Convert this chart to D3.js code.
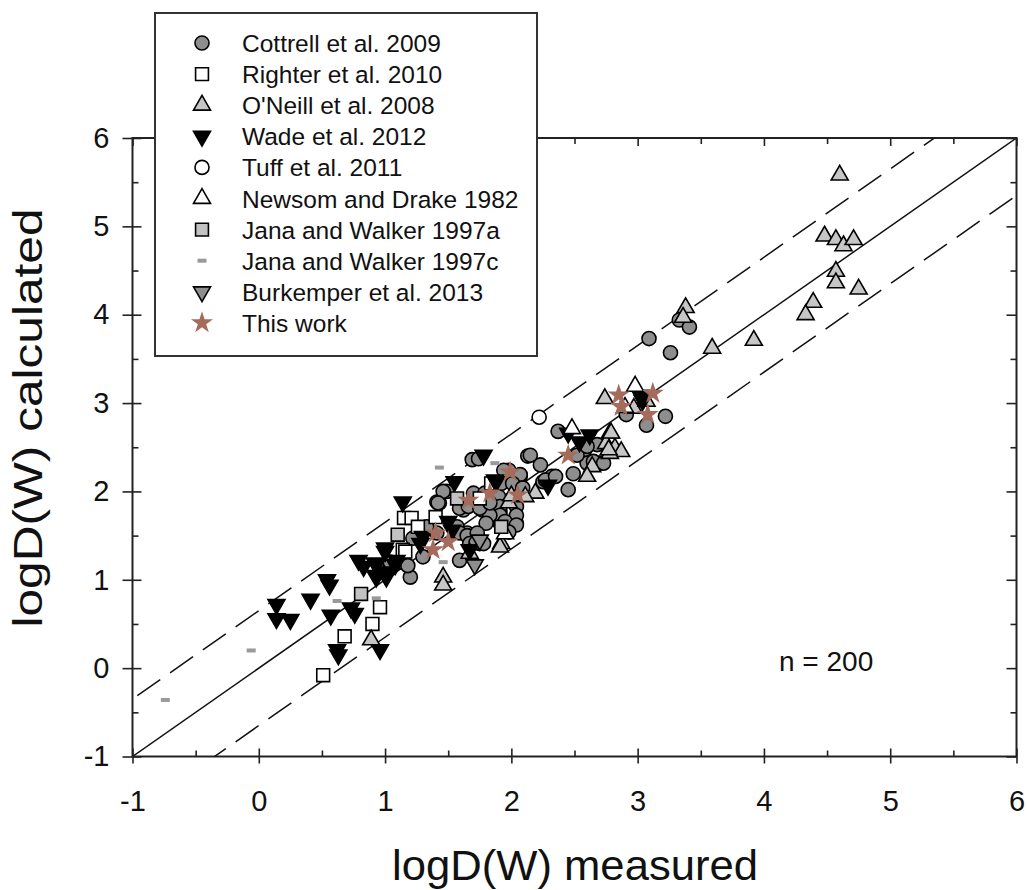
<!DOCTYPE html>
<html>
<head>
<meta charset="utf-8">
<script src="https://cdn.jsdelivr.net/npm/d3@7"></script>
<style>
  body { margin: 0; background: #fff; }
  text { font-family: "Liberation Sans", Arial, sans-serif; fill: #111; }
</style>
</head>
<body>
<svg id="chart"></svg>
<script>
const width = 1027;
const height = 890;

// values: [logD measured, logD calculated]
const cottrell = [
  [3.33,3.94],[3.41,3.86],[3.09,3.73],[3.26,3.57],[3.22,2.85],[3.07,2.75],[2.91,2.87],[2.68,2.53],[2.70,2.32],
  [2.37,2.68],[2.13,2.40],[2.23,2.30],[2.32,2.17],[2.25,2.11],[2.49,2.20],[2.45,2.02],[2.58,2.47],[2.60,2.32],
  [2.52,2.41],[2.60,2.51],[2.65,2.34],[2.73,2.32],[1.69,2.36],[1.74,2.37],[1.99,2.19],[2.07,2.17],[1.43,1.87],
  [1.62,1.79],[1.70,1.98],[1.77,1.79],[1.83,1.71],[1.91,1.77],[1.99,1.90],[2.04,1.83],[1.91,1.64],[1.99,1.60],
  [2.04,1.64],[1.57,1.60],[1.65,1.53],[1.73,1.49],[1.75,1.41],[1.59,1.22],[1.41,1.53],[1.20,1.03],[2.15,2.41],
  [2.27,2.13],[2.35,2.17],[1.98,2.24],[2.07,2.19],[1.92,2.09],[2.01,2.09],[2.09,2.04],[1.79,1.98],[1.90,1.94],
  [1.80,1.87],[1.91,1.83],[2.04,1.73],[1.91,1.73],[1.83,1.73],[1.80,1.64],[1.95,1.66],[2.04,1.62],[1.98,1.54],
  [1.49,2.00],[1.41,1.88],[1.59,1.81],[1.66,1.83],[1.75,1.81],[1.83,1.87],[1.33,1.60],[1.22,1.47],[1.59,1.53],
  [1.65,1.50],[1.73,1.53],[1.67,1.41],[1.72,1.42],[1.78,1.41],[1.04,1.15],[1.12,1.20],[1.18,1.16],[1.30,1.26],
  [1.04,1.20],[1.46,2.00],[1.42,1.87],[1.94,2.24]
];
const righter = [
  [0.51,-0.08],[0.68,0.36],[0.90,0.50],[0.96,0.69],[1.15,1.70],[1.14,1.34],[1.21,1.70],[1.26,1.60],
  [1.40,1.71],[1.16,1.32],[1.84,2.09],[1.75,1.92]
];
const oneill = [
  [4.60,5.58],[4.48,4.89],[4.57,4.85],[4.63,4.78],[4.71,4.85],[4.57,4.49],[4.57,4.36],[4.75,4.29],[4.39,4.14],
  [4.33,4.00],[3.92,3.71],[3.59,3.62],[3.38,4.08],[3.36,3.97],[2.74,3.05],[2.97,2.94],[3.07,3.02],[2.78,2.66],
  [2.75,2.54],[2.82,2.49],[2.87,2.45],[2.78,2.43],[2.64,2.28],[2.60,2.17],[2.19,1.98],[2.11,1.94],[1.98,1.87],
  [1.92,1.41],[1.67,1.30],[1.46,1.03],[1.46,0.94],[0.89,0.32],[2.79,2.66],[2.77,2.47],[1.91,1.37],[2.00,1.95]
];
const wade = [
  [0.14,0.72],[0.14,0.56],[0.25,0.55],[0.41,0.78],[0.54,1.00],[0.56,0.94],[0.57,0.60],[0.73,0.68],[0.76,0.62],
  [0.62,0.21],[0.63,0.15],[0.96,0.21],[0.79,1.22],[0.83,1.15],[0.93,1.17],[0.93,1.05],[1.01,1.03],[1.00,1.32],
  [1.14,1.88],[1.08,1.17],[1.55,2.11],[1.78,2.41],[1.00,1.36],[0.92,1.19],[1.01,1.09],[1.09,1.22],[0.93,1.03],
  [1.88,2.11],[1.50,1.66],[1.53,1.56],[1.30,1.49],[1.28,1.41],[1.67,1.34],[1.87,2.13],[2.29,2.07],[2.45,2.66],
  [2.62,2.64],[2.54,2.56],[3.02,3.09],[3.04,3.03]
];
const tuff = [[2.22,2.84]];
const newsom = [[2.98,3.19],[2.48,2.71],[1.95,1.52],[2.90,2.95]];
const janaA = [[0.81,0.84],[1.10,1.51],[1.57,1.92],[1.92,1.60]];
const janaC = [[-0.74,-0.36],[-0.06,0.20],[0.62,0.76],[0.93,0.79],[1.43,2.27],[1.46,1.20],[1.87,2.32]];
const burkemper = [[1.71,1.17],[1.75,1.45]];
const thisWork = [
  [2.85,3.09],[3.12,3.11],[2.87,2.96],[3.08,2.87],[2.45,2.41],[1.99,2.22],[2.05,1.96],[1.83,1.98],
  [1.66,1.90],[1.40,1.53],[1.50,1.43],[1.38,1.34]
];

const legendLabels = [
  "Cottrell et al. 2009", "Righter et al. 2010", "O'Neill et al. 2008", "Wade et al. 2012",
  "Tuff et al. 2011", "Newsom and Drake 1982", "Jana and Walker 1997a", "Jana and Walker 1997c",
  "Burkemper et al. 2013", "This work"
];
const axisTicks = [-1, 0, 1, 2, 3, 4, 5, 6];
const minorTicks = [-0.5, 0.5, 1.5, 2.5, 3.5, 4.5, 5.5];
const lineOffsets = [-0.65, 0, 0.65];

// series styling, same order as the legend
const series = [
  { data: cottrell, shape: "circle", fill: "#8e8e8e" },
  { data: righter, shape: "square", fill: "#ffffff" },
  { data: oneill, shape: "up", fill: "#c6c6c6" },
  { data: wade, shape: "down", fill: "#000000" },
  { data: tuff, shape: "circle", fill: "#ffffff" },
  { data: newsom, shape: "up", fill: "#ffffff" },
  { data: janaA, shape: "square", fill: "#c2c2c2" },
  { data: janaC, shape: "dash", fill: "#9a9a9a" },
  { data: burkemper, shape: "down", fill: "#8e8e8e" },
  { data: thisWork, shape: "star", fill: "#a56b5b" }
];

const svg = d3.select("#chart")
  .attr("width", width)
  .attr("height", height);

const x = d3.scaleLinear().domain([-1, 6]).range([132.5, 1016.5]);
const y = d3.scaleLinear().domain([-1, 6]).range([756.5, 138]);

const symbolPath = {
  circle: d3.symbol(d3.symbolCircle, 155)(),
  square: d3.symbol(d3.symbolSquare, 165)(),
  up: d3.symbol(d3.symbolTriangle, 125)(),
  down: d3.symbol(d3.symbolTriangle, 125)(),
  star: d3.symbol(d3.symbolStar, 150)()
};

function drawMark(g, shape, fill) {
  if (shape === "dash") {
    g.append("rect").attr("x", -4.5).attr("y", -2).attr("width", 9).attr("height", 4)
      .attr("fill", fill);
  } else {
    g.append("path")
      .attr("d", symbolPath[shape])
      .attr("transform", shape === "down" ? "rotate(180)" : null)
      .attr("fill", fill)
      .attr("stroke", shape === "star" ? "none" : "#000")
      .attr("stroke-width", 1.6);
  }
}

// frame
svg.append("rect")
  .attr("x", x(-1)).attr("y", y(6))
  .attr("width", x(6) - x(-1)).attr("height", y(-1) - y(6))
  .attr("fill", "none").attr("stroke", "#222").attr("stroke-width", 2);

// 1:1 line and the two dashed bands
svg.append("clipPath").attr("id", "plotclip")
  .append("rect")
  .attr("x", x(-1)).attr("y", y(6))
  .attr("width", x(6) - x(-1)).attr("height", y(-1) - y(6));

const line = d3.line().x(d => x(d[0])).y(d => y(d[1]));
svg.append("g").attr("clip-path", "url(#plotclip)")
  .selectAll("path")
  .data(lineOffsets)
  .enter()
  .append("path")
  .attr("d", o => line([[-2, -2 + o], [7, 7 + o]]))
  .attr("fill", "none")
  .attr("stroke", "#111")
  .attr("stroke-width", 1.5)
  .attr("stroke-dasharray", o => o === 0 ? null : "28,12");

// axes: major ticks cross the frame, minor ticks point inward
const plainFormat = d => String(d); // hyphen minus like the original
function styleAxis(g) {
  g.select(".domain").remove();
  g.selectAll("line").attr("stroke", "#222").attr("stroke-width", 1.6);
  g.selectAll("text").attr("font-size", 29).attr("fill", "#111")
    .attr("font-family", "Liberation Sans, Arial, sans-serif");
}

svg.append("g").attr("transform", `translate(0,${y(-1)})`)
  .call(d3.axisBottom(x).tickValues(axisTicks).tickSize(7).tickPadding(27).tickFormat(plainFormat))
  .call(styleAxis);
svg.append("g").attr("transform", `translate(0,${y(-1)})`)
  .call(d3.axisBottom(x).tickValues(axisTicks).tickSize(-8).tickFormat(""))
  .call(styleAxis);
svg.append("g").attr("transform", `translate(0,${y(-1)})`)
  .call(d3.axisBottom(x).tickValues(minorTicks).tickSize(-6).tickFormat(""))
  .call(styleAxis);

svg.append("g").attr("transform", `translate(${x(-1)},0)`)
  .call(d3.axisLeft(y).tickValues(axisTicks).tickSize(10).tickPadding(13).tickFormat(plainFormat))
  .call(styleAxis);
svg.append("g").attr("transform", `translate(${x(-1)},0)`)
  .call(d3.axisLeft(y).tickValues(axisTicks).tickSize(-9).tickFormat(""))
  .call(styleAxis);
svg.append("g").attr("transform", `translate(${x(-1)},0)`)
  .call(d3.axisLeft(y).tickValues(minorTicks).tickSize(-6).tickFormat(""))
  .call(styleAxis);

svg.append("g").attr("transform", `translate(${x(6)},0)`)
  .call(d3.axisRight(y).tickValues(axisTicks).tickSize(-10).tickFormat(""))
  .call(styleAxis);
svg.append("g").attr("transform", `translate(${x(6)},0)`)
  .call(d3.axisRight(y).tickValues(minorTicks).tickSize(-6).tickFormat(""))
  .call(styleAxis);
svg.append("g").attr("transform", `translate(0,${y(6)})`)
  .call(d3.axisTop(x).tickValues(axisTicks).tickSize(-8).tickFormat(""))
  .call(styleAxis);
svg.append("g").attr("transform", `translate(0,${y(6)})`)
  .call(d3.axisTop(x).tickValues(minorTicks).tickSize(-6).tickFormat(""))
  .call(styleAxis);

// points
series.forEach(s => {
  svg.append("g")
    .selectAll("g")
    .data(s.data)
    .enter()
    .append("g")
    .attr("transform", d => `translate(${x(d[0])},${y(d[1])})`)
    .each(function () { drawMark(d3.select(this), s.shape, s.fill); });
});

// axis titles
svg.append("text")
  .attr("x", 575).attr("y", 880)
  .attr("text-anchor", "middle")
  .attr("font-size", 42)
  .attr("textLength", 366).attr("lengthAdjust", "spacingAndGlyphs")
  .text("logD(W) measured");

svg.append("text")
  .attr("transform", "translate(42,418) rotate(-90)")
  .attr("text-anchor", "middle")
  .attr("font-size", 40)
  .attr("textLength", 419).attr("lengthAdjust", "spacingAndGlyphs")
  .text("logD(W) calculated");

svg.append("text")
  .attr("x", 779).attr("y", 671)
  .attr("font-size", 28)
  .text("n = 200");

// legend
const legend = svg.append("g");
legend.append("rect")
  .attr("x", 155).attr("y", 13)
  .attr("width", 382).attr("height", 343)
  .attr("fill", "#fff").attr("stroke", "#333").attr("stroke-width", 2);

const rows = legend.selectAll("g.row")
  .data(series)
  .enter()
  .append("g")
  .attr("class", "row")
  .attr("transform", (d, i) => `translate(0,${43 + i * 31.1})`);

rows.append("g")
  .attr("transform", "translate(202,0)")
  .each(function (d) { drawMark(d3.select(this), d.shape, d.fill); });

rows.append("text")
  .attr("x", 242).attr("y", 9)
  .attr("font-size", 24.5)
  .text((d, i) => legendLabels[i]);
</script>
</body>
</html>
